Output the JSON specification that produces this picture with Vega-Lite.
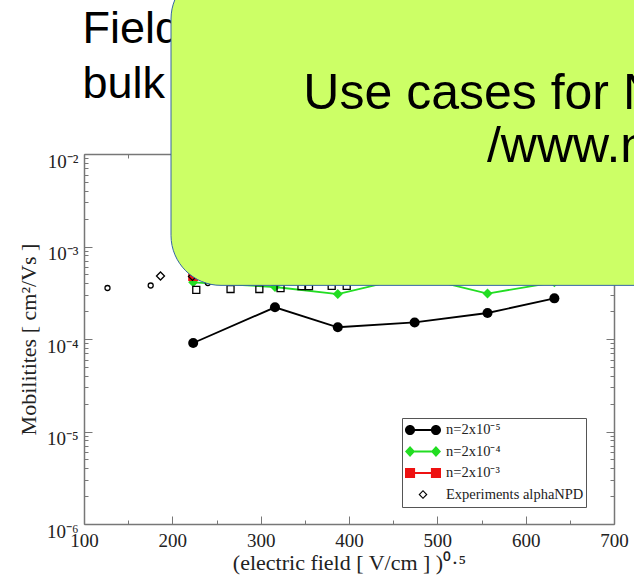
{
  "$schema": "https://vega.github.io/schema/vega-lite/v6.json",
  "width": 530,
  "height": 370,
  "autosize": {"type": "none"},
  "padding": {"left": 84, "top": 154, "right": 20, "bottom": 56},
  "background": "white",
  "config": {"view": {"stroke": null}, "axis": {"grid": false}},
  "datasets": {
    "sim": [
      {"series": "n=2x10⁻⁵", "x": 223.6, "y": 9.05e-5},
      {"series": "n=2x10⁻⁵", "x": 316.2, "y": 2.2e-4},
      {"series": "n=2x10⁻⁵", "x": 387.3, "y": 1.34e-4},
      {"series": "n=2x10⁻⁵", "x": 474.3, "y": 1.51e-4},
      {"series": "n=2x10⁻⁵", "x": 556.8, "y": 1.91e-4},
      {"series": "n=2x10⁻⁵", "x": 632.5, "y": 2.75e-4},
      {"series": "n=2x10⁻⁴", "x": 223.6, "y": 4.1e-4},
      {"series": "n=2x10⁻⁴", "x": 316.2, "y": 3.65e-4},
      {"series": "n=2x10⁻⁴", "x": 387.3, "y": 3.06e-4},
      {"series": "n=2x10⁻⁴", "x": 474.3, "y": 4.8e-4},
      {"series": "n=2x10⁻⁴", "x": 556.8, "y": 3.1e-4},
      {"series": "n=2x10⁻⁴", "x": 632.5, "y": 4.1e-4},
      {"series": "n=2x10⁻³", "x": 223.6, "y": 4.8e-4},
      {"series": "n=2x10⁻³", "x": 316.2, "y": 7e-4},
      {"series": "n=2x10⁻³", "x": 387.3, "y": 6.5e-4},
      {"series": "n=2x10⁻³", "x": 474.3, "y": 8e-4},
      {"series": "n=2x10⁻³", "x": 556.8, "y": 7.5e-4},
      {"series": "n=2x10⁻³", "x": 632.5, "y": 9e-4}
    ],
    "exp": [
      {"group": "a", "x": 126.6, "y": 3.56e-4},
      {"group": "a", "x": 175.5, "y": 3.79e-4},
      {"group": "a", "x": 240.2, "y": 4.03e-4},
      {"group": "b", "x": 186.6, "y": 4.8e-4},
      {"group": "b", "x": 222.8, "y": 4.75e-4},
      {"group": "c", "x": 227.1, "y": 3.39e-4},
      {"group": "c", "x": 265.9, "y": 3.47e-4},
      {"group": "c", "x": 298.5, "y": 3.47e-4},
      {"group": "c", "x": 322.5, "y": 3.54e-4},
      {"group": "c", "x": 346.2, "y": 3.72e-4},
      {"group": "c", "x": 354.7, "y": 3.72e-4},
      {"group": "c", "x": 380.4, "y": 3.75e-4},
      {"group": "c", "x": 397.4, "y": 3.75e-4}
    ],
    "heading": [
      {"x": 98.3, "y": 0.1585, "text": "Field dependence of mobility in"},
      {"x": 98.3, "y": 0.0403, "text": "bulk alphaNPD"}
    ],
    "box": [
      {"x": 198.5, "x2": 800, "y": 3.8e-4, "y2": 1}
    ],
    "boxtext": [
      {"x": 348.3, "y": 0.03065, "text": "Use cases for NOMAD"},
      {"x": 556.2, "y": 0.00819, "text": "/www.nomad-coe.eu"}
    ]
  },
  "resolve": {
    "axis": {"x": "independent", "y": "independent"}
  },
  "layer": [
    {
      "data": {"name": "sim"},
      "mark": {"type": "line", "strokeWidth": 1.8},
      "encoding": {
        "x": {
          "field": "x", "type": "quantitative",
          "scale": {"domain": [100, 700], "nice": false, "zero": false},
          "axis": {
            "orient": "bottom",
            "title": "(electric field [ V/cm ] )⁰·⁵",
            "values": [100, 150, 200, 250, 300, 350, 400, 450, 500, 550, 600, 650, 700],
            "labelExpr": "datum.value % 100 === 0 ? '' + datum.value : ''",
            "labelFlush": false,
            "labelOverlap": false,
            "labelFont": "Liberation Serif",
            "labelFontSize": 19,
            "labelColor": "#222",
            "labelPadding": 15.5,
            "tickSize": {"condition": {"test": "datum.value % 100 === 0", "value": -8}, "value": -4},
            "tickColor": "#777",
            "domainColor": "#777",
            "domainWidth": 1.5,
            "titleFont": "Liberation Serif",
            "titleFontSize": 22,
            "titleFontWeight": "normal",
            "titleColor": "#222",
            "titlePadding": -2
          }
        },
        "y": {
          "field": "y", "type": "quantitative",
          "scale": {"type": "log", "domain": [1e-6, 0.01], "nice": false},
          "axis": {
            "orient": "left",
            "title": "Mobilitites [ cm²/Vs ]",
            "values": [1e-6, 2e-6, 3e-6, 4e-6, 5e-6, 6e-6, 7e-6, 8e-6, 9e-6, 1e-5, 2e-5, 3e-5, 4e-5, 5e-5, 6e-5, 7e-5, 8e-5, 9e-5, 1e-4, 2e-4, 3e-4, 4e-4, 5e-4, 6e-4, 7e-4, 8e-4, 9e-4, 0.001, 0.002, 0.003, 0.004, 0.005, 0.006, 0.007, 0.008, 0.009, 0.01],
            "labelExpr": "datum.value == 0.01 ? '10⁻²' : datum.value == 0.001 ? '10⁻³' : datum.value == 0.0001 ? '10⁻⁴' : datum.value == 0.00001 ? '10⁻⁵' : datum.value == 0.000001 ? '10⁻⁶' : ''",
            "labelOverlap": false,
            "labelFont": "Liberation Serif",
            "labelFontSize": 19,
            "labelColor": "#222",
            "labelPadding": 14,
            "labelBaseline": "middle",
            "labelOffset": 7,
            "tickSize": {"condition": {"test": "abs(log(datum.value)/LN10 - round(log(datum.value)/LN10)) < 0.001", "value": -8}, "value": -4},
            "tickColor": "#777",
            "domainColor": "#777",
            "domainWidth": 1.5,
            "titleFont": "Liberation Serif",
            "titleFontSize": 22,
            "titleFontWeight": "normal",
            "titleColor": "#222",
            "titlePadding": 6
          }
        },
        "color": {
          "field": "series", "type": "nominal",
          "scale": {
            "domain": ["n=2x10⁻⁵", "n=2x10⁻⁴", "n=2x10⁻³"],
            "range": ["#000000", "#22dd22", "#ee1111"]
          },
          "legend": null
        }
      }
    },
    {
      "data": {"name": "sim"},
      "transform": [{"filter": "datum.series === 'n=2x10⁻⁵'"}],
      "mark": {"type": "point", "shape": "circle", "filled": true, "opacity": 1, "size": 100},
      "encoding": {
        "x": {
          "field": "x", "type": "quantitative",
          "axis": {
            "orient": "top", "title": null, "labels": false,
            "values": [100, 150, 200, 250, 300, 350, 400, 450, 500, 550, 600, 650, 700],
            "tickSize": {"condition": {"test": "datum.value % 100 === 0", "value": -8}, "value": -4},
            "tickColor": "#777", "domainColor": "#777", "domainWidth": 1.5
          }
        },
        "y": {
          "field": "y", "type": "quantitative",
          "axis": {
            "orient": "right", "title": null, "labels": false,
            "values": [1e-6, 2e-6, 3e-6, 4e-6, 5e-6, 6e-6, 7e-6, 8e-6, 9e-6, 1e-5, 2e-5, 3e-5, 4e-5, 5e-5, 6e-5, 7e-5, 8e-5, 9e-5, 1e-4, 2e-4, 3e-4, 4e-4, 5e-4, 6e-4, 7e-4, 8e-4, 9e-4, 0.001, 0.002, 0.003, 0.004, 0.005, 0.006, 0.007, 0.008, 0.009, 0.01],
            "tickSize": {"condition": {"test": "abs(log(datum.value)/LN10 - round(log(datum.value)/LN10)) < 0.001", "value": -8}, "value": -4},
            "tickColor": "#777", "domainColor": "#777", "domainWidth": 1.5
          }
        },
        "color": {"field": "series", "type": "nominal", "legend": null}
      }
    },
    {
      "data": {"name": "sim"},
      "transform": [{"filter": "datum.series === 'n=2x10⁻⁴'"}],
      "mark": {"type": "point", "shape": "diamond", "filled": true, "opacity": 1, "size": 100},
      "encoding": {
        "x": {"field": "x", "type": "quantitative", "axis": null},
        "y": {"field": "y", "type": "quantitative", "axis": null},
        "color": {"field": "series", "type": "nominal", "legend": null}
      }
    },
    {
      "data": {"name": "sim"},
      "transform": [{"filter": "datum.series === 'n=2x10⁻³'"}],
      "mark": {"type": "point", "shape": "square", "filled": true, "opacity": 1, "size": 100},
      "encoding": {
        "x": {"field": "x", "type": "quantitative", "axis": null},
        "y": {"field": "y", "type": "quantitative", "axis": null},
        "color": {"field": "series", "type": "nominal", "legend": null}
      }
    },
    {
      "data": {"name": "exp"},
      "transform": [{"filter": "datum.group === 'a'"}],
      "mark": {"type": "point", "shape": "circle", "size": 25, "filled": false, "opacity": 1, "stroke": "#000000", "strokeWidth": 1.3},
      "encoding": {
        "x": {"field": "x", "type": "quantitative", "axis": null},
        "y": {"field": "y", "type": "quantitative", "axis": null}
      }
    },
    {
      "data": {"name": "exp"},
      "transform": [{"filter": "datum.group === 'b'"}],
      "mark": {"type": "point", "shape": "diamond", "size": 64, "filled": false, "opacity": 1, "stroke": "#000000", "strokeWidth": 1.3},
      "encoding": {
        "x": {"field": "x", "type": "quantitative", "axis": null},
        "y": {"field": "y", "type": "quantitative", "axis": null}
      }
    },
    {
      "data": {"name": "exp"},
      "transform": [{"filter": "datum.group === 'c'"}],
      "mark": {"type": "point", "shape": "square", "size": 49, "filled": false, "opacity": 1, "stroke": "#000000", "strokeWidth": 1.3},
      "encoding": {
        "x": {"field": "x", "type": "quantitative", "axis": null},
        "y": {"field": "y", "type": "quantitative", "axis": null}
      }
    },
    {
      "data": {"name": "sim"},
      "transform": [{"filter": "false"}],
      "mark": {"type": "point", "filled": true, "opacity": 1},
      "encoding": {
        "x": {"field": "x", "type": "quantitative", "axis": null},
        "y": {"field": "y", "type": "quantitative", "axis": null},
        "fill": {
          "field": "series", "type": "nominal",
          "scale": {
            "domain": ["n=2x10⁻⁵", "n=2x10⁻⁴", "n=2x10⁻³", "Experiments alphaNPD"],
            "range": ["#000000", "#22dd22", "#ee1111", "#000000"]
          },
          "legend": {
            "title": null,
            "orient": "none",
            "legendX": 318,
            "legendY": 264,
            "strokeColor": "#555",
            "fillColor": "#ffffff",
            "padding": 2,
            "clipHeight": 20,
            "rowPadding": 1.5,
            "symbolSize": 1296,
            "labelFont": "Liberation Serif",
            "labelFontSize": 14.5,
            "labelColor": "#222",
            "labelOffset": 4
          }
        },
        "shape": {
          "field": "series", "type": "nominal",
          "scale": {
            "domain": ["n=2x10⁻⁵", "n=2x10⁻⁴", "n=2x10⁻³", "Experiments alphaNPD"],
            "range": [
              "M-1,0A0.28,0.28,0,1,0,-0.44,0A0.28,0.28,0,1,0,-1,0ZM0.44,0A0.28,0.28,0,1,0,1,0A0.28,0.28,0,1,0,0.44,0ZM-0.5,-0.055L-0.5,0.055L0.5,0.055L0.5,-0.055Z",
              "M-1,0L-0.72,-0.3L-0.44,0L-0.72,0.3ZM0.44,0L0.72,-0.3L1,0L0.72,0.3ZM-0.5,-0.05L0.5,-0.05L0.5,0.05L-0.5,0.05Z",
              "M-1,-0.28L-0.44,-0.28L-0.44,0.28L-1,0.28ZM0.44,-0.28L1,-0.28L1,0.28L0.44,0.28ZM-0.44,-0.05L0.44,-0.05L0.44,0.05L-0.44,0.05Z",
              "M-0.25,0L0,-0.25L0.25,0L0,0.25ZM-0.16,0L0,0.16L0.16,0L0,-0.16Z"
            ]
          },
          "legend": {
            "title": null,
            "orient": "none",
            "legendX": 318,
            "legendY": 264,
            "strokeColor": "#555",
            "fillColor": "#ffffff",
            "padding": 2,
            "clipHeight": 20,
            "rowPadding": 1.5,
            "symbolSize": 1296,
            "labelFont": "Liberation Serif",
            "labelFontSize": 14.5,
            "labelColor": "#222",
            "labelOffset": 4
          }
        }
      }
    },
    {
      "data": {"name": "heading"},
      "mark": {"type": "text", "align": "left", "baseline": "alphabetic", "font": "Liberation Sans", "fontSize": 45, "color": "#000000"},
      "encoding": {
        "x": {"field": "x", "type": "quantitative", "axis": null},
        "y": {"field": "y", "type": "quantitative", "axis": null},
        "text": {"field": "text"}
      }
    },
    {
      "data": {"name": "box"},
      "mark": {"type": "rect", "fill": "#ccff66", "stroke": "#3465a4", "strokeWidth": 1, "cornerRadius": 50},
      "encoding": {
        "x": {"field": "x", "type": "quantitative", "axis": null},
        "x2": {"field": "x2"},
        "y": {"field": "y", "type": "quantitative", "axis": null},
        "y2": {"field": "y2"}
      }
    },
    {
      "data": {"name": "boxtext"},
      "mark": {"type": "text", "align": "left", "baseline": "alphabetic", "font": "Liberation Sans", "fontSize": 50, "color": "#000000"},
      "encoding": {
        "x": {"field": "x", "type": "quantitative", "axis": null},
        "y": {"field": "y", "type": "quantitative", "axis": null},
        "text": {"field": "text"}
      }
    }
  ]
}
